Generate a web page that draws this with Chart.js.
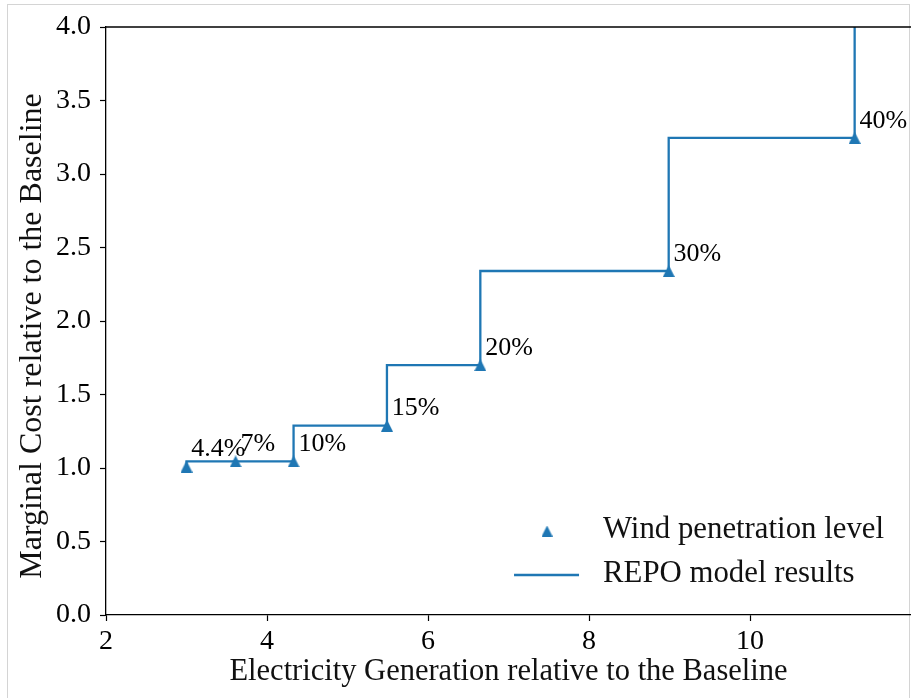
<!DOCTYPE html>
<html lang="en">
<head>
    <meta charset="UTF-8">
    <title>Marginal cost vs electricity generation</title>
    <script src="https://cdn.jsdelivr.net/npm/chart.js"></script>
    <style>
        body {
            margin: 0;
            background: #fff;
        }

        #wrap {
            position: relative;
            width: 911px;
            height: 698px;
            overflow: hidden;
        }

        /* thin grey frame around the figure */
        #frame {
            position: absolute;
            left: 7px;
            top: 4px;
            width: 901px;
            height: 760px;
            border: 1px solid #d4d4d4;
        }

        #chart {
            position: absolute;
            left: 0;
            top: 0;
        }
    </style>
</head>
<body>

    <div id="wrap">
        <div id="frame"></div>
        <canvas id="chart" width="911" height="698"></canvas>
    </div>

    <script>
        // Wind penetration levels and their results relative to the baseline
        var penetration = ['4.4%', '7%', '10%', '15%', '20%', '30%', '40%'];
        var generation = [3.0, 3.61, 4.33, 5.49, 6.65, 8.99, 11.30];
        var marginalCost = [1.01, 1.045, 1.045, 1.288, 1.70, 2.34, 3.246];

        // next step of the model curve, beyond the plotted range
        var tailGeneration = 12.6;
        var tailCost = 4.6;

        var xTicks = [2, 4, 6, 8, 10];
        var yTicks = [0.0, 0.5, 1.0, 1.5, 2.0, 2.5, 3.0, 3.5, 4.0];

        var xTitle = 'Electricity Generation relative to the Baseline';
        var yTitle = 'Marginal Cost relative to the Baseline';

        var blue = '#1f77b4';
        var serif = '"Liberation Serif", "Times New Roman", serif';

        // matplotlib style "^" marker: as tall as it is wide
        function triangleMarker(size) {
            var c = document.createElement('canvas');
            c.width = size;
            c.height = size;
            var g = c.getContext('2d');
            g.fillStyle = blue;
            g.beginPath();
            g.moveTo(size / 2, 0);
            g.lineTo(size, size);
            g.lineTo(0, size);
            g.closePath();
            g.fill();
            return c;
        }

        var markerPts = generation.map(function (g, i) {
            return { x: g, y: marginalCost[i] };
        });
        var stepPts = markerPts.concat([{ x: tailGeneration, y: tailCost }]);

        // top spine of the axes box and the rotated y label
        var frameBits = {
            id: 'frameBits',
            afterDraw: function (chart) {
                var a = chart.chartArea, ctx = chart.ctx;
                ctx.save();
                ctx.strokeStyle = '#000';
                ctx.lineWidth = 1.3;
                ctx.beginPath();
                ctx.moveTo(a.left, a.top);
                ctx.lineTo(a.right, a.top);
                ctx.stroke();

                ctx.translate(33, (a.top + a.bottom) / 2 + 15);
                ctx.rotate(-Math.PI / 2);
                ctx.font = '32px ' + serif;
                ctx.fillStyle = '#111';
                ctx.textAlign = 'center';
                ctx.textBaseline = 'middle';
                ctx.fillText(yTitle, 0, 0);
                ctx.restore();
            }
        };

        // percentage labels next to each marker
        var pointLabels = {
            id: 'pointLabels',
            afterDatasetsDraw: function (chart) {
                var xs = chart.scales.x, ys = chart.scales.y, ctx = chart.ctx;
                ctx.save();
                ctx.font = '26px ' + serif;
                ctx.fillStyle = '#000';
                ctx.textAlign = 'left';
                ctx.textBaseline = 'alphabetic';
                penetration.forEach(function (txt, i) {
                    ctx.fillText(txt, xs.getPixelForValue(generation[i] + 0.06),
                        ys.getPixelForValue(marginalCost[i] + 0.07));
                });
                ctx.restore();
            }
        };

        // legend in the lower right corner of the axes
        var cornerLegend = {
            id: 'cornerLegend',
            afterDraw: function (chart) {
                var a = chart.chartArea, ctx = chart.ctx;
                var sets = chart.data.datasets;
                ctx.save();
                ctx.font = '30.8px ' + serif;
                var w = 0;
                sets.forEach(function (d) { w = Math.max(w, ctx.measureText(d.label).width); });
                var textX = a.right - 27 - w;
                var rows = [a.bottom - 77, a.bottom - 33];
                sets.forEach(function (d, i) {
                    var base = rows[i];
                    var mid = base - 7;
                    if (d.type === 'scatter') {
                        var m = triangleMarker(11);
                        ctx.drawImage(m, textX - 56 - 5.5, mid - 5.5);
                    } else {
                        ctx.strokeStyle = d.borderColor;
                        ctx.lineWidth = d.borderWidth;
                        ctx.beginPath();
                        ctx.moveTo(textX - 89, mid);
                        ctx.lineTo(textX - 24, mid);
                        ctx.stroke();
                    }
                    ctx.fillStyle = '#111';
                    ctx.textAlign = 'left';
                    ctx.textBaseline = 'alphabetic';
                    ctx.fillText(d.label, textX, base);
                });
                ctx.restore();
            }
        };

        var ctx = document.getElementById('chart').getContext('2d');
        var chart = new Chart(ctx, {
            data: {
                datasets: [{
                    type: 'scatter',
                    label: 'Wind penetration level',
                    data: markerPts,
                    pointStyle: triangleMarker(12),
                    backgroundColor: blue,
                    borderColor: blue,
                    order: 0
                }, {
                    type: 'line',
                    label: 'REPO model results',
                    data: stepPts,
                    stepped: 'after',
                    borderColor: blue,
                    borderWidth: 2.3,
                    pointRadius: 0,
                    fill: false,
                    order: 1
                }]
            },
            options: {
                responsive: false,
                animation: false,
                layout: {
                    autoPadding: false,
                    padding: { top: 27, right: 0, left: 0, bottom: 0 }
                },
                plugins: {
                    legend: { display: false },
                    tooltip: { enabled: false }
                },
                scales: {
                    x: {
                        type: 'linear',
                        min: 2,
                        max: 12,
                        afterBuildTicks: function (scale) {
                            scale.ticks = xTicks.map(function (v) { return { value: v }; });
                        },
                        afterFit: function (scale) {
                            scale.height = 83;
                            scale.paddingRight = 0;
                        },
                        ticks: {
                            color: '#000',
                            font: { family: serif, size: 28 },
                            padding: 4,
                            maxRotation: 0
                        },
                        grid: {
                            drawOnChartArea: false,
                            tickLength: 6,
                            tickColor: '#000',
                            tickWidth: 1.2
                        },
                        border: { color: '#000', width: 1.3 },
                        title: {
                            display: true,
                            text: xTitle,
                            color: '#111',
                            font: { family: serif, size: 30.5 },
                            padding: { top: 0, bottom: 8 }
                        }
                    },
                    y: {
                        type: 'linear',
                        min: 0,
                        max: 4,
                        afterBuildTicks: function (scale) {
                            scale.ticks = yTicks.map(function (v) { return { value: v }; });
                        },
                        afterFit: function (scale) { scale.width = 106; },
                        ticks: {
                            color: '#000',
                            font: { family: serif, size: 28 },
                            padding: 9,
                            callback: function (v) { return v.toFixed(1); }
                        },
                        grid: {
                            drawOnChartArea: false,
                            tickLength: 6,
                            tickColor: '#000',
                            tickWidth: 1.2
                        },
                        border: { color: '#000', width: 1.3 }
                    }
                }
            },
            plugins: [frameBits, pointLabels, cornerLegend]
        });
    </script>

</body>
</html>
